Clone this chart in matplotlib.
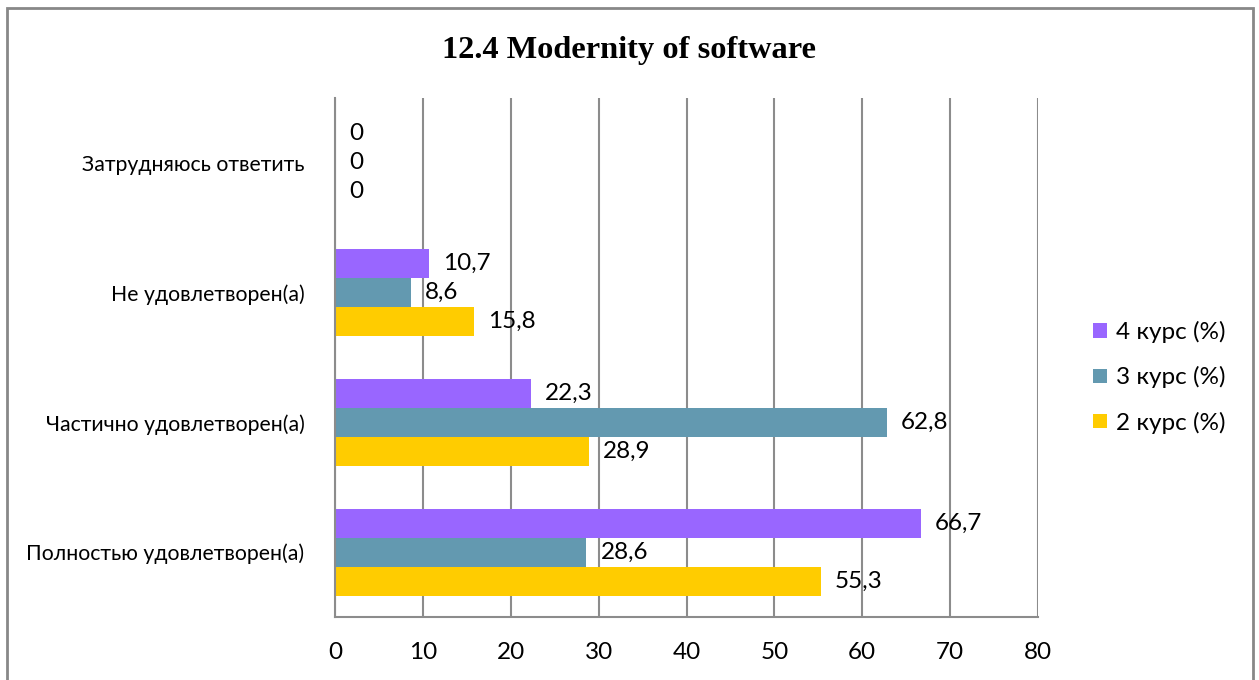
"""
Горизонтальная диаграмма: современность программного обеспечения по курсам.
"""

import matplotlib

matplotlib.use("Agg")
import matplotlib.pyplot as plt
import numpy as np
from matplotlib.patches import Rectangle

# Категории снизу вверх
categories = [
    "Полностью удовлетворен(а)",
    "Частично удовлетворен(а)",
    "Не удовлетворен(а)",
    "Затрудняюсь ответить",
]
course2 = [55.3, 28.9, 15.8, 0]
course3 = [28.6, 62.8, 8.6, 0]
course4 = [66.7, 22.3, 10.7, 0]
series_names = ["2 курс (%)", "3 курс (%)", "4 курс (%)"]
series_colors = ["#FFCC00", "#6399B0", "#9966FF"]
xticks = [0, 10, 20, 30, 40, 50, 60, 70, 80]

plt.rcParams["font.family"] = ["Lato", "DejaVu Sans"]

fig = plt.figure(figsize=(12.59, 6.8), dpi=100)
ax = fig.add_axes([0.2661, 0.0926, 0.5584, 0.7632])

y = np.arange(len(categories))
h = 0.223
bars_all = []
for i, (vals, name, color) in enumerate(
    zip([course2, course3, course4], series_names, series_colors)
):
    bars = ax.barh(y + (i - 1) * h, vals, height=h, color=color, label=name)
    bars_all.append(bars)
    for b, v in zip(bars, vals):
        txt = f"{v:g}".replace(".", ",")
        ax.text(
            v + 1.6, b.get_y() + b.get_height() / 2, txt,
            va="center", ha="left", fontsize=17.5,
        )

ax.set_xlim(0, 80)
ax.set_ylim(-0.5, 3.5)
ax.set_xticks(xticks)
ax.set_xticklabels([str(t) for t in xticks], fontsize=17.5)
ax.set_yticks(y)
ax.set_yticklabels(categories, fontsize=15.3)
ax.tick_params(axis="both", length=0)
ax.tick_params(axis="x", pad=18)
ax.tick_params(axis="y", pad=22)
ax.grid(axis="x", color="#8c8c8c", linewidth=1.5)
ax.set_axisbelow(True)
for side in ["top", "right"]:
    ax.spines[side].set_visible(False)
for side in ["left", "bottom"]:
    ax.spines[side].set_color("#8c8c8c")
    ax.spines[side].set_linewidth(1.5)

fig.text(
    0.5, 0.926, "12.4 Modernity of software",
    ha="center", va="center", fontsize=23.3, weight="bold",
    family="Liberation Serif",
)

# Легенда: 4 курс сверху
handles = [bars_all[2], bars_all[1], bars_all[0]]
labels = [series_names[2], series_names[1], series_names[0]]
fig.legend(
    handles, labels, loc="center left", bbox_to_anchor=(0.851, 0.445),
    frameon=False, fontsize=17.5, handlelength=0.55, handleheight=0.55,
    handletextpad=0.4, labelspacing=0.95,
)

# Рамка вокруг диаграммы
fig.patches.append(
    Rectangle(
        (7 / 1259, -0.05), 1246 / 1259, 1.05 - 8 / 680,
        transform=fig.transFigure, fill=False, edgecolor="#888888",
        linewidth=2,
    )
)

fig.savefig("out.png", dpi=100)
